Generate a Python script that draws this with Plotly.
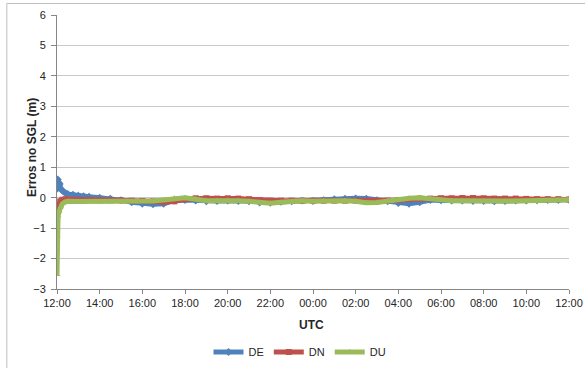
import plotly.graph_objects as go

# time in hours after 12:00 UTC
t_de = [0.0, 0.02, 0.04, 0.06, 0.08, 0.10, 0.13, 0.17, 0.22, 0.30, 0.40, 0.50, 0.75, 1.0, 1.25, 1.5,
        2.0, 2.5, 3.0, 3.5, 4.0, 4.5, 5.0, 5.5, 6.0, 6.5, 7.0, 7.5, 8.0, 8.5, 9.0, 9.5, 10.0, 10.5,
        11.0, 11.5, 12.0, 12.5, 13.0, 13.5, 14.0, 14.5, 15.0, 15.5, 16.0, 16.5, 17.0, 17.5, 18.0,
        18.5, 19.0, 19.5, 20.0, 20.5, 21.0, 21.5, 22.0, 22.5, 23.0, 23.5, 24.0]
de = [0.55, 0.30, 0.60, 0.40, 0.50, 0.35, 0.45, 0.30, 0.25, 0.20, 0.15, 0.12, 0.10, 0.07, 0.05, 0.03,
      0.00, -0.03, -0.08, -0.15, -0.20, -0.22, -0.20, -0.10, -0.08, -0.10, -0.12, -0.11, -0.10, -0.11,
      -0.12, -0.16, -0.17, -0.14, -0.12, -0.10, -0.11, -0.08, -0.05, -0.03, -0.02, -0.03, -0.08, -0.12,
      -0.18, -0.20, -0.15, -0.08, -0.09, -0.10, -0.10, -0.11, -0.11, -0.12, -0.11, -0.10, -0.10, -0.09,
      -0.08, -0.08, -0.07]

t_dn = [0.0, 0.03, 0.08, 0.15, 0.25, 0.40, 0.60, 1.0, 1.5, 2.0, 2.5, 3.0, 3.5, 4.0, 4.5, 5.0, 5.5,
        6.0, 6.5, 7.0, 7.5, 8.0, 8.5, 9.0, 9.5, 10.0, 10.5, 11.0, 11.5, 12.0, 12.5, 13.0, 13.5, 14.0,
        14.5, 15.0, 15.5, 16.0, 16.5, 17.0, 17.5, 18.0, 18.5, 19.0, 19.5, 20.0, 20.5, 21.0, 21.5, 22.0,
        22.5, 23.0, 23.5, 24.0]
dn = [-0.62, -0.45, -0.25, -0.12, -0.07, -0.05, -0.06, -0.07, -0.07, -0.08, -0.08, -0.09, -0.10, -0.11,
      -0.12, -0.14, -0.12, -0.05, -0.02, -0.02, -0.03, -0.02, -0.03, -0.05, -0.08, -0.10, -0.10, -0.10,
      -0.10, -0.10, -0.10, -0.10, -0.10, -0.10, -0.12, -0.12, -0.10, -0.08, -0.05, -0.03, -0.03, -0.02,
      -0.02, -0.01, -0.01, -0.02, -0.03, -0.03, -0.03, -0.04, -0.05, -0.05, -0.05, -0.06]

t_du = [0.0, 0.01, 0.05, 0.10, 0.17, 0.25, 0.35, 0.50, 1.0, 1.5, 2.0, 2.5, 3.0, 3.5, 4.0, 4.5, 5.0,
        5.5, 6.0, 6.5, 7.0, 7.5, 8.0, 8.5, 9.0, 9.5, 10.0, 10.5, 11.0, 11.5, 12.0, 12.5, 13.0, 13.5,
        14.0, 14.5, 15.0, 15.5, 16.0, 16.5, 17.0, 17.5, 18.0, 18.5, 19.0, 19.5, 20.0, 20.5, 21.0, 21.5,
        22.0, 22.5, 23.0, 23.5, 24.0]
du = [-2.52, -1.25, -0.60, -0.45, -0.30, -0.20, -0.15, -0.12, -0.13, -0.13, -0.14, -0.14, -0.13, -0.12,
      -0.12, -0.11, -0.08, -0.02, 0.00, -0.05, -0.10, -0.10, -0.09, -0.10, -0.12, -0.17, -0.18, -0.15,
      -0.12, -0.10, -0.12, -0.10, -0.12, -0.10, -0.12, -0.17, -0.16, -0.10, -0.06, -0.02, 0.00, -0.04,
      -0.08, -0.10, -0.10, -0.11, -0.12, -0.13, -0.12, -0.11, -0.10, -0.10, -0.09, -0.08, -0.07]

tick_vals = [0, 2, 4, 6, 8, 10, 12, 14, 16, 18, 20, 22, 24]
tick_text = ["12:00", "14:00", "16:00", "18:00", "20:00", "22:00", "00:00",
             "02:00", "04:00", "06:00", "08:00", "10:00", "12:00"]

series = [
    ("DE", t_de, de, "#4F81BD", "diamond"),
    ("DN", t_dn, dn, "#C0504D", "square"),
    ("DU", t_du, du, "#9BBB59", "triangle-up"),
]

fig = go.Figure()
for name, t, v, col, sym in series:
    fig.add_trace(go.Scatter(
        x=t, y=v, name=name, mode="lines+markers",
        line=dict(color=col, width=5),
        marker=dict(symbol=sym, size=6, color=col),
    ))

font_family = "Liberation Sans, Arial, sans-serif"
fig.update_layout(
    width=585, height=368,
    margin=dict(l=57, r=16, t=15, b=79),
    paper_bgcolor="white", plot_bgcolor="white",
    font=dict(family=font_family, size=11, color="#262626"),
    showlegend=True,
    legend=dict(orientation="h", xref="container", yref="container",
                x=300 / 585, xanchor="center", y=16 / 368, yanchor="middle",
                font=dict(size=11), itemwidth=30, tracegroupgap=0),
    xaxis=dict(range=[0, 24], tickvals=tick_vals, ticktext=tick_text, automargin=False,
               showgrid=False, zeroline=False, showline=True, linecolor="#868686",
               ticks="outside", ticklen=4, tickcolor="#868686"),
    yaxis=dict(range=[-3, 6], dtick=1, showgrid=True, gridcolor="#C8C8C8", automargin=False,
               zeroline=False, showline=True, linecolor="#868686",
               ticks="outside", ticklen=5, tickcolor="#868686", ticklabelstandoff=3),
    annotations=[
        dict(text="<b>Erros no SGL (m)</b>", xref="paper", yref="paper", x=-0.0488, y=0.515,
             xanchor="center", yanchor="middle", textangle=-90, showarrow=False,
             font=dict(size=12, color="#262626")),
        dict(text="<b>UTC</b>", xref="paper", yref="paper", x=0.498, y=-0.131,
             xanchor="center", yanchor="middle", showarrow=False,
             font=dict(size=12, color="#262626")),
    ],
    shapes=[dict(type="rect", xref="paper", yref="paper",
                 x0=-0.098, x1=1.2, y0=-0.5, y1=1.042,
                 line=dict(color="#BFBFBF", width=1), fillcolor="rgba(0,0,0,0)", layer="below")],
)

fig.write_html("out.html", post_script="document.body.style.margin='0';",
               config={"displayModeBar": False})
